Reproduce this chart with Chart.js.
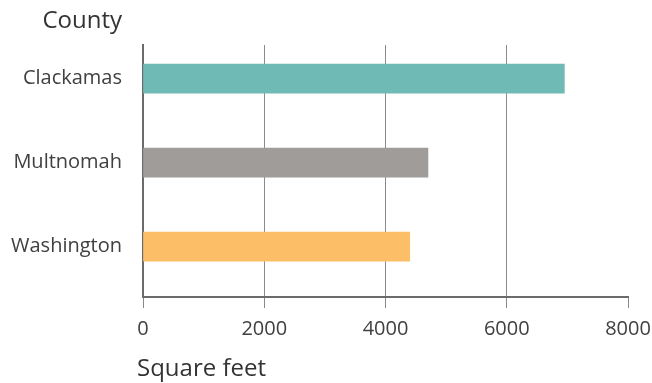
<!DOCTYPE html>
<html>
<head>
<meta charset="utf-8">
<script src="https://cdn.jsdelivr.net/npm/chart.js@4/dist/chart.umd.min.js"></script>
<style>
  html, body { margin: 0; padding: 0; background: #ffffff; }
  #wrap { width: 652px; height: 383px; position: relative; }
</style>
</head>
<body>
<div id="wrap"><canvas id="c"></canvas></div>
<script>
// Median home size by county
const counties = ['Clackamas', 'Multnomah', 'Washington'];
const squareFeet = [6950, 4700, 4400];
const barColors = ['#6fbab5', '#a09c9a', '#fdbe68'];
const xTicks = [0, 2000, 4000, 6000, 8000];

const FONT = '"Open Sans", "Noto Sans", sans-serif';
const TEXT = '#404040';

// Axis titles: "County" above the category labels, "Square feet" under the value axis
const axisTitles = {
  id: 'axisTitles',
  afterDraw(chart) {
    const { ctx, scales } = chart;
    const y = scales.y, x = scales.x;
    ctx.save();
    ctx.fillStyle = '#333333';
    ctx.font = '24px ' + FONT;
    ctx.textBaseline = 'middle';
    ctx.textAlign = 'right';
    ctx.fillText('County', y.right - 21, 21);
    ctx.textAlign = 'left';
    ctx.fillText('Square feet', x.left - 6, 369);
    ctx.restore();
  }
};

new Chart(document.getElementById('c'), {
  type: 'bar',
  data: {
    datasets: [{
      data: squareFeet.map((v, i) => ({ x: v, y: i })),
      backgroundColor: barColors,
      borderWidth: 0,
      barThickness: 29
    }]
  },
  options: {
    indexAxis: 'y',
    responsive: true,
    maintainAspectRatio: false,
    animation: false,
    layout: { padding: { left: 0, right: 24, top: 45, bottom: 0 } },
    plugins: {
      legend: { display: false },
      tooltip: { enabled: false }
    },
    scales: {
      x: {
        type: 'linear',
        min: 0,
        max: 8000,
        afterBuildTicks(scale) { scale.ticks = xTicks.map(v => ({ value: v })); },
        afterFit(scale) {
          scale.height = 86;
          scale.paddingLeft = 0;
          scale.paddingRight = 0;
        },
        grid: {
          color: ctx => (ctx.tick && ctx.tick.value === 8000) ? 'rgba(0,0,0,0)' : '#8a8a8a',
          tickColor: '#8a8a8a',
          lineWidth: 1,
          tickLength: 11,
          drawTicks: true
        },
        border: { display: true, color: '#6b6b6b', width: 2 },
        ticks: {
          color: TEXT,
          font: { family: FONT, size: 20 },
          padding: 9,
          maxRotation: 0,
          callback: v => String(v)
        }
      },
      y: {
        type: 'linear',
        offset: false,
        reverse: true,
        min: -0.4,
        max: 2.6,
        afterBuildTicks(scale) { scale.ticks = counties.map((_, i) => ({ value: i })); },
        afterFit(scale) { scale.width = 143; },
        grid: { display: false, drawTicks: false },
        border: { display: true, color: '#6b6b6b', width: 2 },
        ticks: {
          color: TEXT,
          font: { family: FONT, size: 20 },
          padding: 21,
          callback: v => counties[v]
        }
      }
    }
  },
  plugins: [axisTitles]
});
</script>
</body>
</html>
